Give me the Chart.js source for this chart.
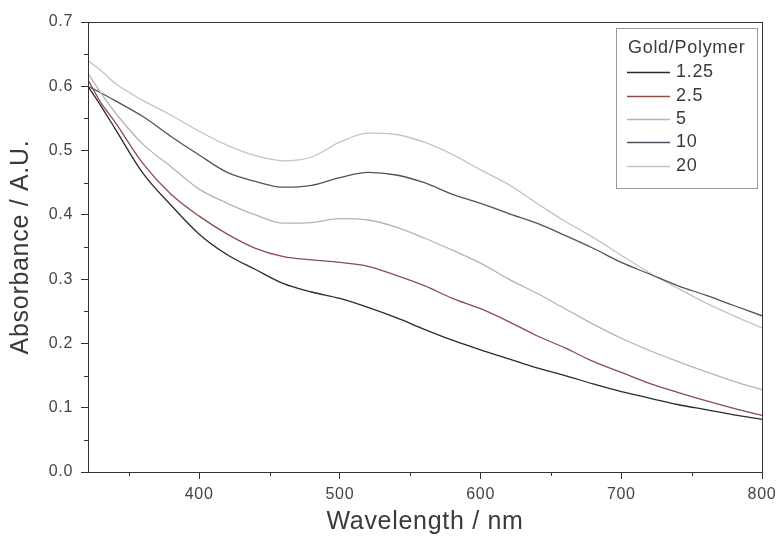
<!DOCTYPE html>
<html>
<head>
<meta charset="utf-8">
<script src="https://cdn.jsdelivr.net/npm/chart.js@4/dist/chart.umd.min.js"></script>
<style>
  html, body { margin: 0; padding: 0; background: #fff; }
  #wrap { width: 782px; height: 545px; position: relative; }
</style>
</head>
<body>
<div id="wrap"><canvas id="c" width="782" height="545"></canvas></div>
<script>
// ---- data ----
const wavelengths = [321, 330, 340, 360, 380, 400, 420, 440, 460, 480, 500, 520, 540, 560, 580, 600, 620, 640, 660, 680, 700, 720, 740, 760, 780, 800];
const series125 = [0.600, 0.570, 0.535, 0.465, 0.415, 0.370, 0.338, 0.315, 0.293, 0.280, 0.270, 0.256, 0.240, 0.222, 0.205, 0.190, 0.176, 0.162, 0.150, 0.137, 0.125, 0.115, 0.105, 0.097, 0.089, 0.082];
const series25  = [0.610, 0.575, 0.545, 0.480, 0.432, 0.398, 0.370, 0.348, 0.335, 0.330, 0.326, 0.320, 0.306, 0.290, 0.270, 0.254, 0.234, 0.212, 0.193, 0.172, 0.155, 0.138, 0.124, 0.111, 0.099, 0.088];
const series5   = [0.620, 0.590, 0.560, 0.510, 0.475, 0.440, 0.418, 0.400, 0.387, 0.388, 0.394, 0.392, 0.381, 0.364, 0.345, 0.325, 0.300, 0.278, 0.254, 0.230, 0.208, 0.189, 0.172, 0.156, 0.141, 0.128];
const series10  = [0.600, 0.590, 0.578, 0.553, 0.522, 0.493, 0.466, 0.452, 0.443, 0.446, 0.458, 0.466, 0.462, 0.450, 0.432, 0.418, 0.402, 0.387, 0.368, 0.348, 0.326, 0.308, 0.290, 0.275, 0.259, 0.243];
const series20  = [0.640, 0.625, 0.605, 0.578, 0.555, 0.530, 0.508, 0.492, 0.484, 0.490, 0.513, 0.527, 0.525, 0.513, 0.494, 0.470, 0.447, 0.418, 0.390, 0.365, 0.337, 0.310, 0.286, 0.263, 0.243, 0.224];
const seriesLabels = ['1.25', '2.5', '5', '10', '20'];
const legendTitle = 'Gold/Polymer';
const xTickValues = [400, 500, 600, 700, 800];
const xMinorValues = [350, 450, 550, 650, 750];
const yTickValues = [0, 0.1, 0.2, 0.3, 0.4, 0.5, 0.6, 0.7];
const yMinorValues = [0.05, 0.15, 0.25, 0.35, 0.45, 0.55, 0.65];
const xTitle = 'Wavelength / nm';
const yTitle = 'Absorbance / A.U.';

const colors = ['#2b2b2b', '#8c4d4d', '#b4b4b4', '#4d5461', '#c4c4c4'];
const allSeries = [series125, series25, series5, series10, series20];

const FONT = 'Liberation Sans, Arial, sans-serif';

const datasets = allSeries.map((s, i) => ({
  label: seriesLabels[i],
  data: wavelengths.map((w, j) => ({ x: w, y: s[j] })),
  borderColor: colors[i],
  backgroundColor: colors[i],
  borderWidth: 1.3,
  pointRadius: 0,
  fill: false,
  cubicInterpolationMode: 'monotone'
}));

const framePlugin = {
  id: 'frame',
  beforeDraw(chart) {
    if ('letterSpacing' in chart.ctx) chart.ctx.letterSpacing = '0.7px';
  },
  afterDraw(chart) {
    const { ctx, chartArea: a, scales } = chart;
    ctx.save();
    ctx.strokeStyle = '#333';
    ctx.lineWidth = 1;
    ctx.strokeRect(a.left + 0.5, a.top + 0.5, a.right - a.left, a.bottom - a.top);
    // minor ticks
    ctx.beginPath();
    xMinorValues.forEach(v => {
      const px = Math.round(scales.x.getPixelForValue(v)) + 0.5;
      ctx.moveTo(px, a.bottom); ctx.lineTo(px, a.bottom + 4);
    });
    yMinorValues.forEach(v => {
      const py = Math.round(scales.y.getPixelForValue(v)) + 0.5;
      ctx.moveTo(a.left, py); ctx.lineTo(a.left - 4, py);
    });
    ctx.stroke();

    // legend box
    const lx = 616, ly = 28, lw = 141, lh = 160;
    ctx.strokeStyle = '#999';
    ctx.fillStyle = '#fff';
    ctx.fillRect(lx, ly, lw, lh);
    ctx.strokeRect(lx + 0.5, ly + 0.5, lw, lh);
    ctx.fillStyle = '#3a3a3a';
    ctx.font = '18px ' + FONT;
    ctx.textBaseline = 'middle';
    ctx.textAlign = 'left';
    ctx.fillText(legendTitle, 628, 48);
    const ds = chart.data.datasets;
    const rowY = [72, 96, 119, 142, 166];
    ds.forEach((d, i) => {
      const y = rowY[i] + 0.5;
      ctx.strokeStyle = d.borderColor;
      ctx.lineWidth = 1.4;
      ctx.beginPath();
      ctx.moveTo(627, y); ctx.lineTo(670, y);
      ctx.stroke();
      ctx.fillStyle = '#3a3a3a';
      ctx.fillText(d.label, 676, rowY[i]);
    });
    ctx.restore();
  }
};

new Chart(document.getElementById('c'), {
  type: 'line',
  data: { datasets },
  options: {
    responsive: false,
    animation: false,
    layout: { padding: { top: 22, right: 20, left: 0, bottom: 0 } },
    plugins: { legend: { display: false }, tooltip: { enabled: false } },
    scales: {
      x: {
        type: 'linear',
        min: 321, max: 800,
        afterBuildTicks: s => { s.ticks = xTickValues.map(v => ({ value: v })); },
        afterFit: s => { s.height = 73; },
        grid: { drawOnChartArea: false, drawTicks: true, tickLength: 7, color: '#333' },
        border: { display: true, color: '#333', width: 1 },
        ticks: { color: '#444', font: { family: FONT, size: 16 }, padding: 6, maxRotation: 0,
                 callback: v => String(v) },
        title: { display: true, text: xTitle, color: '#3a3a3a', font: { family: FONT, size: 25 },
                 padding: { top: 0, bottom: 8 } }
      },
      y: {
        min: 0, max: 0.7,
        afterBuildTicks: s => { s.ticks = yTickValues.map(v => ({ value: v })); },
        afterFit: s => { s.width = 88; },
        grid: { drawOnChartArea: false, drawTicks: true, tickLength: 7, color: '#333' },
        border: { display: true, color: '#333', width: 1 },
        ticks: { color: '#444', font: { family: FONT, size: 16 }, padding: 8,
                 callback: v => Number(v).toFixed(1) },
        title: { display: true, text: yTitle, color: '#3a3a3a', font: { family: FONT, size: 25 },
                 padding: { top: 6, bottom: 0 } }
      }
    }
  },
  plugins: [framePlugin]
});
</script>
</body>
</html>
